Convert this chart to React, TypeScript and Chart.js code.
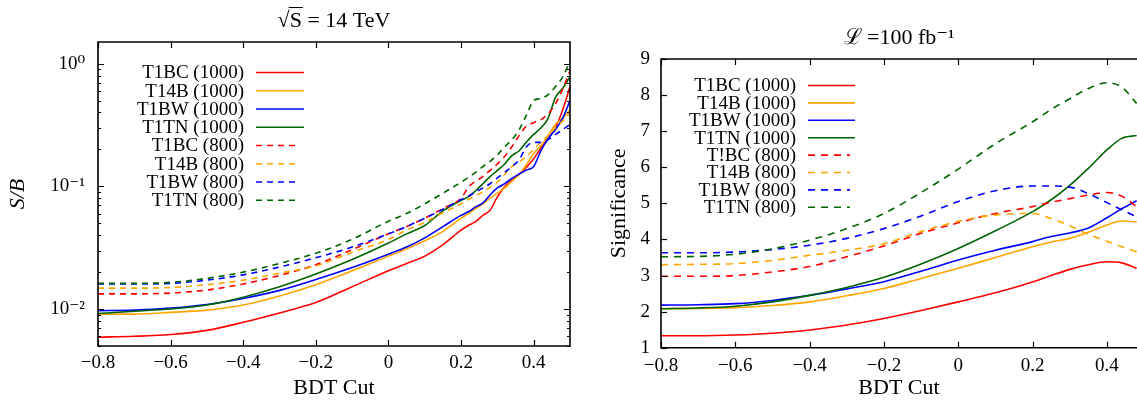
import React, { useEffect, useRef } from "react";
import { Chart, registerables } from "chart.js";

Chart.register(...registerables);

const FONT = "'Liberation Serif', 'DejaVu Serif', serif";

// ---------- shared series metadata ----------
const labelsLeft = ["T1BC (1000)", "T14B (1000)", "T1BW (1000)", "T1TN (1000)", "T1BC (800)", "T14B (800)", "T1BW (800)", "T1TN (800)"];
const labelsRight = ["T1BC (1000)", "T14B (1000)", "T1BW (1000)", "T1TN (1000)", "T!BC (800)", "T14B (800)", "T1BW (800)", "T1TN (800)"];
const seriesColors = ["#ff0000", "#ffa500", "#0000ff", "#006400", "#ff0000", "#ffa500", "#0000ff", "#006400"];
const seriesDashed = [false, false, false, false, true, true, true, true];

const leftTitle = "\u221AS = 14 TeV";
const rightTitle = "\u2112 =100 fb\u207B\u00B9";

// ---------- left panel: S/B vs BDT cut ----------
const bdtLeft = [-0.8, -0.7, -0.6, -0.5, -0.4, -0.3, -0.2, -0.1, 0, 0.05, 0.1, 0.15, 0.2, 0.22, 0.24, 0.26, 0.28, 0.3, 0.32, 0.34, 0.36, 0.38, 0.4, 0.42, 0.44, 0.46, 0.48, 0.5];
const sbT1BC1000 = [0.0059, 0.006, 0.0062, 0.0067, 0.0078, 0.0093, 0.0113, 0.0152, 0.0205, 0.0235, 0.027, 0.0335, 0.044, 0.048, 0.0515, 0.058, 0.064, 0.082, 0.099, 0.112, 0.125, 0.143, 0.168, 0.205, 0.245, 0.3, 0.42, 0.65];
const sbT14B1000 = [0.0091, 0.0091, 0.0094, 0.0098, 0.0108, 0.0128, 0.0158, 0.0205, 0.027, 0.031, 0.036, 0.043, 0.055, 0.06, 0.066, 0.072, 0.08, 0.088, 0.097, 0.11, 0.125, 0.15, 0.185, 0.215, 0.26, 0.32, 0.36, 0.42];
const sbT1BW1000 = [0.0097, 0.0098, 0.0102, 0.0109, 0.0122, 0.0142, 0.0174, 0.0218, 0.028, 0.032, 0.038, 0.047, 0.058, 0.062, 0.068, 0.073, 0.085, 0.097, 0.105, 0.116, 0.126, 0.136, 0.145, 0.195, 0.245, 0.29, 0.36, 0.5];
const sbT1TN1000 = [0.0092, 0.0096, 0.01, 0.0108, 0.0125, 0.0152, 0.0193, 0.0253, 0.0345, 0.041, 0.048, 0.063, 0.077, 0.082, 0.092, 0.105, 0.12, 0.135, 0.152, 0.178, 0.195, 0.23, 0.265, 0.3, 0.36, 0.53, 0.63, 0.78];
const sbT1BC800 = [0.0133, 0.0133, 0.0135, 0.0143, 0.016, 0.0188, 0.023, 0.0305, 0.041, 0.047, 0.055, 0.066, 0.08, 0.098, 0.11, 0.12, 0.135, 0.152, 0.175, 0.21, 0.26, 0.31, 0.33, 0.35, 0.39, 0.47, 0.62, 0.88];
const sbT14B800 = [0.0148, 0.0148, 0.015, 0.0158, 0.0172, 0.0196, 0.0225, 0.029, 0.037, 0.044, 0.051, 0.061, 0.072, 0.078, 0.084, 0.09, 0.098, 0.108, 0.125, 0.145, 0.158, 0.175, 0.2, 0.23, 0.26, 0.3, 0.34, 0.4];
const sbT1BW800 = [0.016, 0.016, 0.0162, 0.0172, 0.019, 0.022, 0.0262, 0.032, 0.041, 0.047, 0.055, 0.065, 0.078, 0.083, 0.09, 0.097, 0.105, 0.117, 0.13, 0.145, 0.165, 0.21, 0.228, 0.228, 0.24, 0.265, 0.29, 0.32];
const sbT1TN800 = [0.0162, 0.0162, 0.0165, 0.0178, 0.02, 0.0235, 0.0285, 0.037, 0.052, 0.06, 0.072, 0.088, 0.108, 0.118, 0.13, 0.145, 0.16, 0.18, 0.21, 0.24, 0.29, 0.38, 0.5, 0.52, 0.56, 0.65, 0.78, 1.05];
const leftSeries = [sbT1BC1000, sbT14B1000, sbT1BW1000, sbT1TN1000, sbT1BC800, sbT14B800, sbT1BW800, sbT1TN800];

// ---------- right panel: significance vs BDT cut ----------
const bdtRight = [-0.8, -0.7, -0.6, -0.5, -0.4, -0.3, -0.2, -0.1, 0, 0.1, 0.2, 0.25, 0.3, 0.35, 0.4, 0.44, 0.48];
const sigT1BC1000 = [1.33, 1.33, 1.35, 1.4, 1.49, 1.63, 1.81, 2.03, 2.27, 2.52, 2.82, 3.0, 3.17, 3.3, 3.38, 3.35, 3.2];
const sigT14B1000 = [2.08, 2.09, 2.11, 2.17, 2.27, 2.44, 2.64, 2.92, 3.2, 3.5, 3.8, 3.93, 4.03, 4.2, 4.4, 4.51, 4.49];
const sigT1BW1000 = [2.18, 2.19, 2.22, 2.31, 2.45, 2.63, 2.83, 3.12, 3.43, 3.7, 3.94, 4.08, 4.18, 4.32, 4.6, 4.85, 5.07];
const sigT1TN1000 = [2.08, 2.1, 2.15, 2.27, 2.45, 2.67, 2.95, 3.32, 3.75, 4.24, 4.77, 5.1, 5.5, 5.97, 6.48, 6.8, 6.88];
const sigT1BC800 = [2.98, 2.98, 3.0, 3.1, 3.25, 3.52, 3.82, 4.17, 4.46, 4.72, 4.91, 5.03, 5.13, 5.23, 5.3, 5.2, 4.91];
const sigT14B800 = [3.3, 3.31, 3.33, 3.42, 3.56, 3.7, 3.88, 4.22, 4.5, 4.68, 4.72, 4.58, 4.38, 4.14, 3.95, 3.8, 3.66];
const sigT1BW800 = [3.63, 3.63, 3.65, 3.72, 3.84, 4.03, 4.3, 4.65, 5.05, 5.35, 5.48, 5.48, 5.45, 5.27, 5.02, 4.82, 4.63];
const sigT1TN800 = [3.52, 3.53, 3.59, 3.74, 3.98, 4.3, 4.72, 5.3, 5.95, 6.65, 7.26, 7.6, 7.9, 8.18, 8.34, 8.22, 7.77];
const rightSeries = [sigT1BC1000, sigT14B1000, sigT1BW1000, sigT1TN1000, sigT1BC800, sigT14B800, sigT1BW800, sigT1TN800];

const logTickLabels: Record<string, string> = { "0": "10\u2070", "-1": "10\u207B\u00B9", "-2": "10\u207B\u00B2" };

function fmtX(v: number): string {
  if (Math.abs(v) < 1e-9) return "0";
  return (v < 0 ? "\u2212" : "") + Math.abs(v).toFixed(1);
}

// ---------- plugins ----------
const framePlugin = {
  id: "frame",
  afterDatasetsDraw(chart: any, _args: any, o: any) {
    const { ctx, chartArea: a, scales } = chart;
    ctx.save();
    ctx.strokeStyle = "#000";
    ctx.lineWidth = 1.2;
    ctx.setLineDash([]);
    const major = 6;
    const minor = 3;
    for (const t of scales.x.ticks) {
      const px = Math.round(scales.x.getPixelForValue(t.value)) + 0.5;
      ctx.beginPath();
      ctx.moveTo(px, a.bottom);
      ctx.lineTo(px, a.bottom - major);
      ctx.moveTo(px, a.top);
      ctx.lineTo(px, a.top + major);
      ctx.stroke();
    }
    const ys: { v: number; len: number }[] = [];
    if (o.log) {
      for (let e = -3; e <= 1; e++) {
        for (let m = 1; m <= 9; m++) {
          const v = m * Math.pow(10, e);
          if (v >= scales.y.min && v <= scales.y.max) ys.push({ v, len: m === 1 ? major : minor });
        }
      }
    } else {
      for (const t of scales.y.ticks) ys.push({ v: t.value, len: major });
    }
    for (const t of ys) {
      const py = Math.round(scales.y.getPixelForValue(t.v)) + 0.5;
      ctx.beginPath();
      ctx.moveTo(a.left, py);
      ctx.lineTo(a.left + t.len, py);
      if (o.right) {
        ctx.moveTo(a.right, py);
        ctx.lineTo(a.right - t.len, py);
      }
      ctx.stroke();
    }
    ctx.lineWidth = 1.6;
    ctx.beginPath();
    if (o.right) {
      ctx.rect(a.left, a.top, a.right - a.left, a.bottom - a.top);
    } else {
      ctx.moveTo(a.right + 2, a.top);
      ctx.lineTo(a.left, a.top);
      ctx.lineTo(a.left, a.bottom);
      ctx.lineTo(a.right + 2, a.bottom);
    }
    ctx.stroke();
    ctx.restore();
  },
  afterDraw(chart: any, _args: any, o: any) {
    if (!o.overline) return;
    // overline over the S under the radical in the title
    const { ctx, chartArea: a } = chart;
    ctx.save();
    ctx.font = `22px ${FONT}`;
    const full = ctx.measureText(leftTitle).width;
    const cx = (a.left + a.right) / 2;
    const x0 = cx - full / 2 + ctx.measureText("\u221A").width - 1;
    const x1 = x0 + ctx.measureText("S").width + 2;
    ctx.strokeStyle = "#000";
    ctx.lineWidth = 1;
    ctx.beginPath();
    ctx.moveTo(x0, o.overlineY);
    ctx.lineTo(x1, o.overlineY);
    ctx.stroke();
    ctx.restore();
  },
};

const legendPlugin = {
  id: "seriesLegend",
  afterDatasetsDraw(chart: any, _args: any, o: any) {
    const ctx = chart.ctx;
    ctx.save();
    ctx.font = `19px ${FONT}`;
    ctx.textAlign = "right";
    ctx.textBaseline = "middle";
    chart.data.datasets.forEach((ds: any, i: number) => {
      const y = o.top + i * o.rowH;
      ctx.fillStyle = "#000";
      ctx.fillText(ds.label, o.textRight, y + 1);
      ctx.strokeStyle = ds.borderColor;
      ctx.lineWidth = ds.borderWidth;
      ctx.setLineDash(ds.borderDash || []);
      ctx.beginPath();
      ctx.moveTo(o.x0, y);
      ctx.lineTo(ds.borderDash ? o.x1d : o.x1, y);
      ctx.stroke();
    });
    ctx.restore();
  },
};

function makeDatasets(xs: number[], series: number[][], labels: string[], dash: number[]) {
  return series.map((vals, i) => ({
    label: labels[i],
    data: xs.map((x, j) => ({ x, y: vals[j] })),
    borderColor: seriesColors[i],
    backgroundColor: seriesColors[i],
    borderWidth: 1.6,
    borderDash: seriesDashed[i] ? dash : undefined,
    pointRadius: 0,
    fill: false,
    cubicInterpolationMode: "monotone",
    order: -i,
  }));
}

const tickFont = { family: FONT, size: 19 };
const titleFont = { family: FONT, size: 22, weight: "normal" };

function leftConfig(): any {
  return {
    type: "line",
    data: { datasets: makeDatasets(bdtLeft, leftSeries, labelsLeft, [6, 5]) },
    options: {
      responsive: false,
      animation: false,
      events: [],
      layout: { padding: { left: 0, right: 10, top: 0, bottom: 0 } },
      scales: {
        x: {
          type: "linear",
          min: -0.8,
          max: 0.5,
          grid: { display: false, drawTicks: false },
          border: { display: false },
          ticks: { stepSize: 0.2, includeBounds: false, padding: 5.3, color: "#000", font: tickFont, callback: (v: number) => fmtX(v), maxRotation: 0, autoSkip: false },
          title: { display: true, text: "BDT Cut", color: "#000", font: titleFont, padding: { top: 0, bottom: 0.8 } },
          afterFit: (s: any) => { s.height = 56; },
        },
        y: {
          type: "logarithmic",
          min: 0.005,
          max: 1.5,
          grid: { display: false, drawTicks: false },
          border: { display: false },
          ticks: {
            padding: 13,
            color: "#000",
            font: tickFont,
            autoSkip: false,
            callback: (v: number) => {
              const e = Math.round(Math.log10(v));
              if (Math.abs(Math.log10(v) - e) > 1e-6) return "";
              return logTickLabels[String(e)] ?? "";
            },
          },
          title: { display: true, text: "S/B", color: "#000", font: { family: FONT, size: 22, style: "italic" }, padding: { top: 5.1, bottom: 0 } },
          afterFit: (s: any) => { s.width = 98; },
        },
      },
      plugins: {
        legend: { display: false },
        tooltip: { enabled: false },
        title: { display: true, text: leftTitle, fullSize: false, color: "#000", font: titleFont, padding: { top: 7.8, bottom: 7.8 } },
        frame: { right: true, log: true, overline: true, overlineY: 7.5 },
        seriesLegend: { top: 72.5, rowH: 18.25, textRight: 244, x0: 256, x1: 304, x1d: 300 },
      },
    },
    plugins: [framePlugin, legendPlugin],
  };
}

function rightConfig(): any {
  return {
    type: "line",
    data: { datasets: makeDatasets(bdtRight, rightSeries, labelsRight, [7, 6]) },
    options: {
      responsive: false,
      animation: false,
      events: [],
      layout: { padding: { left: 0, right: 0, top: 0, bottom: 0 } },
      scales: {
        x: {
          type: "linear",
          min: -0.8,
          max: 0.481,
          grid: { display: false, drawTicks: false },
          border: { display: false },
          ticks: { stepSize: 0.2, includeBounds: false, padding: 6.6, color: "#000", font: tickFont, callback: (v: number) => fmtX(v), maxRotation: 0, autoSkip: false },
          title: { display: true, text: "BDT Cut", color: "#000", font: titleFont, padding: { top: 0, bottom: 0.8 } },
          afterFit: (s: any) => { s.height = 54.3; },
        },
        y: {
          type: "linear",
          min: 1,
          max: 9,
          grid: { display: false, drawTicks: false },
          border: { display: false },
          ticks: { stepSize: 1, padding: 11, color: "#000", font: tickFont, autoSkip: false },
          title: { display: true, text: "Significance", color: "#000", font: titleFont, padding: { top: 25.6, bottom: 0 } },
          afterFit: (s: any) => { s.width = 81; },
        },
      },
      plugins: {
        legend: { display: false },
        tooltip: { enabled: false },
        title: { display: true, text: rightTitle, fullSize: false, color: "#000", font: titleFont, padding: { top: 25.1, bottom: 7.5 } },
        frame: { right: false, log: false, overline: false },
        seriesLegend: { top: 85.5, rowH: 17.4, textRight: 216, x0: 228, x1: 275, x1d: 270 },
      },
    },
    plugins: [framePlugin, legendPlugin],
  };
}

function ChartCanvas({ config, width, height, left }: { config: () => any; width: number; height: number; left: number }) {
  const ref = useRef<HTMLCanvasElement | null>(null);
  useEffect(() => {
    if (!ref.current) return;
    const chart = new Chart(ref.current, config());
    return () => chart.destroy();
  }, [config]);
  return (
    <canvas
      ref={ref}
      width={width}
      height={height}
      style={{ position: "absolute", left, top: 0, width, height }}
    />
  );
}

export default function App() {
  return (
    <div style={{ position: "absolute", left: 0, top: 0, width: 1137, height: 402, overflow: "hidden", background: "#fff" }}>
      <ChartCanvas config={leftConfig} width={580} height={402} left={0} />
      <ChartCanvas config={rightConfig} width={557} height={402} left={580} />
    </div>
  );
}
